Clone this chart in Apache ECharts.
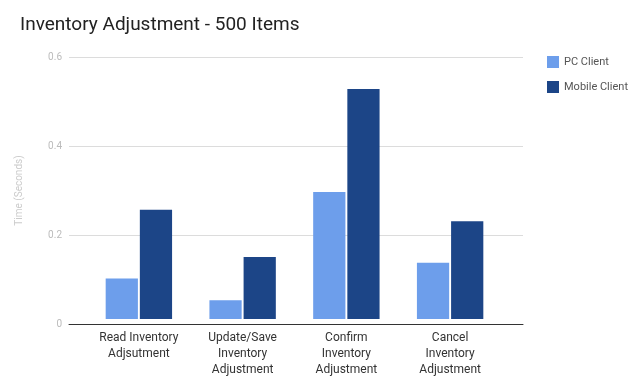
<!DOCTYPE html>
<html><head><meta charset="utf-8">
<script src="https://cdn.jsdelivr.net/npm/echarts@6/dist/echarts.min.js"></script>
<style>html,body{margin:0;padding:0;background:#fff}#c{width:638px;height:378px}</style>
</head><body><div id="c"></div>
<script>
const categories = ["Read Inventory\nAdjsutment", "Update/Save\nInventory\nAdjustment", "Confirm\nInventory\nAdjustment", "Cancel\nInventory\nAdjustment"];
const pcClient = [0.093, 0.043, 0.291, 0.129];
const mobileClient = [0.25, 0.142, 0.527, 0.224];
const yTicks = [0, 0.2, 0.4, 0.6];

const chart = echarts.init(document.getElementById('c'), null, {renderer: 'canvas'});
chart.setOption({
  animation: false,
  backgroundColor: '#fff',
  title: {text: 'Inventory Adjustment - 500 Items', left: 15, top: 11,
    textStyle: {fontFamily: 'Roboto', fontSize: 19, fontWeight: 'normal', color: '#222'}},
  legend: {orient: 'vertical', left: 542, top: 51, itemWidth: 12, itemHeight: 12, itemGap: 13,
    icon: 'rect', textStyle: {fontFamily: 'Roboto', fontSize: 11, color: '#555'},
    data: ['PC Client', 'Mobile Client']},
  grid: [
    {left: 87, right: 136, top: 57, bottom: 54},
    {left: 69, right: 115, top: 57, bottom: 54}
  ],
  xAxis: [
    {type: 'category', gridIndex: 0, data: categories,
      axisLine: {show: false}, axisTick: {show: false},
      axisLabel: {margin: 11, fontFamily: 'Roboto', fontSize: 12, color: '#333', lineHeight: 16, interval: 0}},
    {type: 'category', gridIndex: 1, data: [''],
      axisLine: {show: true, lineStyle: {color: '#333', width: 1}}, axisTick: {show: false}, axisLabel: {show: false}}
  ],
  yAxis: [
    {type: 'value', gridIndex: 0, min: yTicks[0], max: yTicks[yTicks.length - 1], interval: 0.2,
      show: false, splitLine: {show: false}},
    {type: 'value', gridIndex: 1, min: yTicks[0], max: yTicks[yTicks.length - 1], interval: 0.2,
      name: 'Time (Seconds)', nameLocation: 'middle', nameGap: 45, nameRotate: 90,
      nameTextStyle: {fontFamily: 'Roboto', fontSize: 10, color: '#ccc'},
      axisLine: {show: false}, axisTick: {show: false},
      axisLabel: {margin: 7, fontFamily: 'Roboto', fontSize: 10, color: '#bbb',
        formatter: v => (v === 0 ? '0' : v.toFixed(1))},
      splitLine: {show: true, lineStyle: {color: '#dcdcdc', width: 1}}}
  ],
  series: [
    {name: 'PC Client', type: 'bar', xAxisIndex: 0, yAxisIndex: 0, data: pcClient,
      itemStyle: {color: '#6d9eeb'}, barGap: '6%', barCategoryGap: '36%'},
    {name: 'Mobile Client', type: 'bar', xAxisIndex: 0, yAxisIndex: 0, data: mobileClient,
      itemStyle: {color: '#1c4587'}, barGap: '6%', barCategoryGap: '36%'}
  ]
});
</script></body></html>
